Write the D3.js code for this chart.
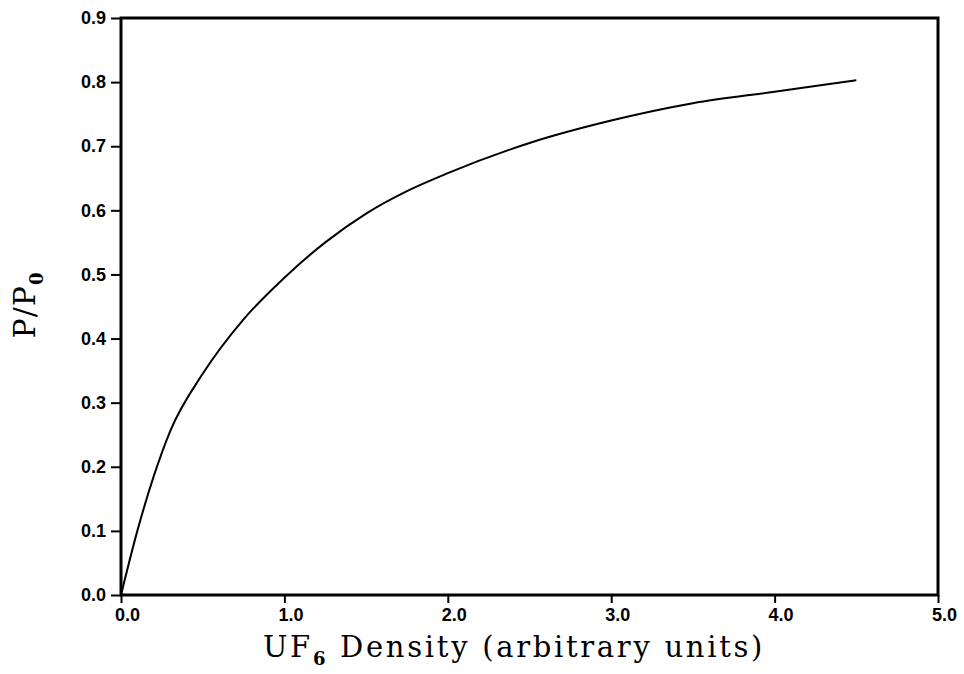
<!DOCTYPE html>
<html>
<head>
<meta charset="utf-8">
<script src="https://cdn.jsdelivr.net/npm/d3@7"></script>
<style>
  body { margin: 0; background: #fff; }
  .tick text { font-family: "Liberation Sans", Arial, sans-serif; font-weight: bold; font-size: 18px; fill: #000; }
</style>
</head>
<body>
<script>
// Curve
const density = [0, 0.1, 0.2, 0.3, 0.5, 0.75, 1.0, 1.25, 1.5, 1.75, 2.0, 2.5, 3.0, 3.5, 4.0, 4.5];
const ratio   = [0, 0.10, 0.185, 0.255, 0.345, 0.43, 0.495, 0.55, 0.595, 0.63, 0.658, 0.705, 0.74, 0.767, 0.785, 0.803];
const xTicks = [0, 1, 2, 3, 4, 5];
const yTicks = [0, 0.1, 0.2, 0.3, 0.4, 0.5, 0.6, 0.7, 0.8, 0.9];

const margin = { top: 18, right: 26, bottom: 79, left: 121 };
const W = 964, H = 674;
const width = W - margin.left - margin.right;
const height = H - margin.top - margin.bottom;

const svg = d3.select("body").append("svg")
    .attr("width", W).attr("height", H);
const g = svg.append("g").attr("transform", `translate(${margin.left},${margin.top})`);

const x = d3.scaleLinear().domain([0, 5]).range([0, width]);
const y = d3.scaleLinear().domain([0, 0.9]).range([height, 0]);

// axes
const xAxis = g.append("g").attr("transform", `translate(0,${height})`)
    .call(d3.axisBottom(x).tickValues(xTicks).tickFormat(d3.format(".1f")).tickSize(8).tickPadding(5));
xAxis.selectAll(".tick text").attr("dx", 6);
const yAxis = g.append("g")
    .call(d3.axisLeft(y).tickValues(yTicks).tickFormat(d3.format(".1f")).tickSize(10).tickPadding(5));
[xAxis, yAxis].forEach(a => {
    a.select(".domain").remove();
    a.selectAll(".tick line").attr("stroke", "#000").attr("stroke-width", 2);
});

// frame
g.append("rect").attr("x", 0).attr("y", 0).attr("width", width).attr("height", height)
    .attr("fill", "none").attr("stroke", "#000").attr("stroke-width", 3);

// curve
const pts = density.map((d, i) => [d, ratio[i]]);
g.append("path").datum(pts)
    .attr("fill", "none").attr("stroke", "#000").attr("stroke-width", 2)
    .attr("d", d3.line().x(d => x(d[0])).y(d => y(d[1])).curve(d3.curveMonotoneX));

// x title
const xt = svg.append("text")
    .attr("x", 514).attr("y", 657)
    .attr("text-anchor", "middle")
    .style("font-family", "'DejaVu Serif', serif").style("font-size", "29px")
    .style("letter-spacing", "2.7px");
xt.append("tspan").text("UF");
xt.append("tspan").attr("dy", 8).style("font-size", "18px").style("font-weight", "bold").text("6");
xt.append("tspan").attr("dy", -8).text(" Density (arbitrary units)");

// y title
const yt = svg.append("text")
    .attr("transform", `translate(35,305) rotate(-90)`)
    .attr("text-anchor", "middle")
    .style("font-family", "'DejaVu Serif', serif").style("font-size", "30px")
    .style("letter-spacing", "1px");
yt.append("tspan").text("P/P");
yt.append("tspan").attr("dy", 8).style("font-size", "18px").style("font-weight", "bold").text("0");
</script>
</body>
</html>
